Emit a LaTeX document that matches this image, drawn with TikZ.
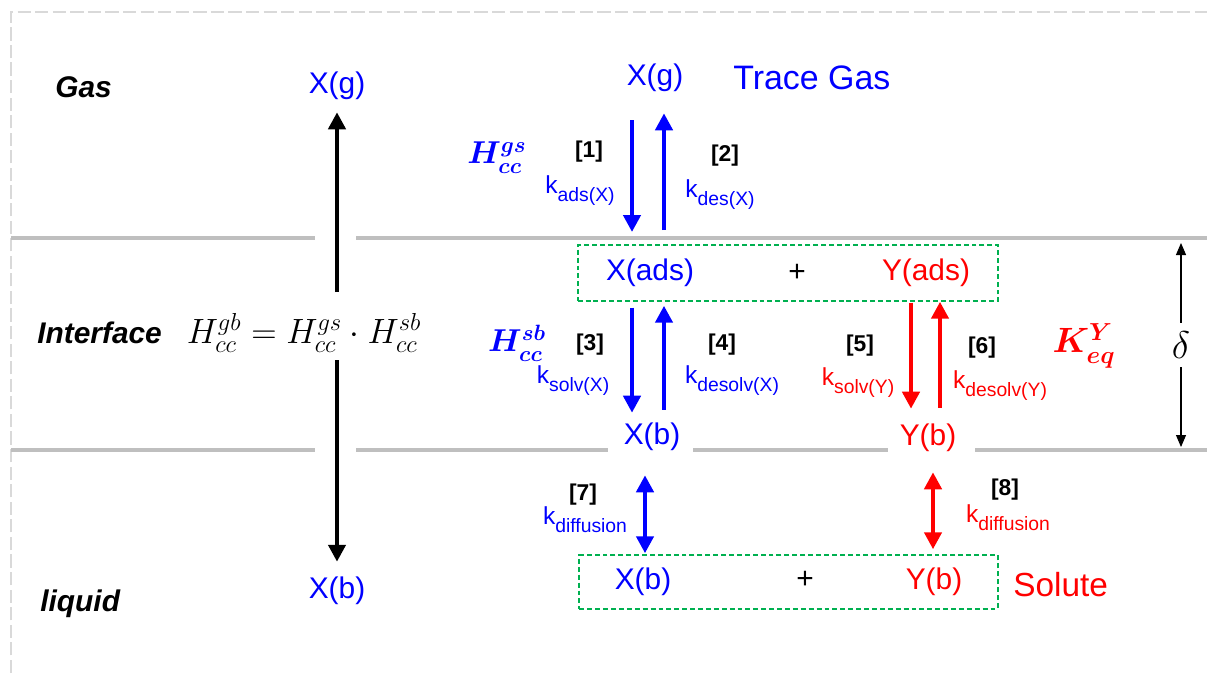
\documentclass[tikz,border=0pt]{standalone}
\usepackage{fix-cm}
\usepackage{fontspec}
\setmainfont{Liberation Sans}
\usetikzlibrary{arrows.meta,positioning,calc,fit}
\definecolor{xblue}{RGB}{0,0,255}
\definecolor{yred}{RGB}{255,0,0}
\definecolor{boxgreen}{RGB}{0,176,80}
\definecolor{sepgray}{RGB}{191,191,191}
\definecolor{framegray}{RGB}{217,217,217}
\newcommand{\krate}[1]{k\raisebox{-4.5pt}{\fontsize{11}{13}\selectfont #1}}

\begin{document}
\begin{tikzpicture}[
    x=0.02cm, y=-0.02cm,
    spec/.style={inner sep=0pt, font=\fontsize{17}{20}\selectfont},
    xsp/.style={spec, text=xblue},
    ysp/.style={spec, text=yred},
    phase/.style={inner sep=0pt, anchor=west,
      font=\fontsize{17}{20}\selectfont\bfseries\itshape},
    tagnum/.style={inner sep=0pt, font=\fontsize{13}{15}\selectfont\bfseries},
    ratelbl/.style={inner sep=0pt, font=\fontsize{14}{16}\selectfont},
    coef/.style={inner sep=0pt, font=\fontsize{18}{21}\selectfont\boldmath},
    gbox/.style={draw=boxgreen, line width=1.1pt,
      dash pattern=on 2.8pt off 1.7pt, inner ysep=0.27cm},
    sepline/.style={draw=sepgray, line width=2.3pt},
    pageframe/.style={draw=framegray, line width=1.7pt,
      dash pattern=on 7.5pt off 2.5pt},
    karr/.style={-{Triangle[length=0.34cm,width=0.34cm]}, line width=2.8pt, draw=black},
    barr/.style={-{Triangle[length=0.34cm,width=0.34cm]}, line width=2.7pt, draw=xblue},
    rarr/.style={-{Triangle[length=0.34cm,width=0.34cm]}, line width=2.7pt, draw=yred},
    dbl/.style={arrows={Triangle[length=0.34cm,width=0.34cm]-Triangle[length=0.34cm,width=0.34cm]},
      line width=2.7pt},
    darr/.style={arrows={Triangle[length=0.24cm,width=0.2cm]-Triangle[length=0.24cm,width=0.2cm]},
      line width=0.6pt, draw=black}
  ]
    \useasboundingbox (0,0) rectangle (1207,673);

    % frame and phase boundaries
    \draw[pageframe] (11,673) -- (11,12) -- (1207,12);
    \draw[sepline] (11,238) -- (315,238);
    \draw[sepline] (356,238) -- (1207,238);
    \draw[sepline] (11,450) -- (315,450);
    \draw[sepline] (356,450) -- (608,450);
    \draw[sepline] (693,450) -- (888,450);
    \draw[sepline] (975,450) -- (1207,450);
    \coordinate (lnU) at (1207,238);

    % phase names
    \node[phase] (gas)  at (55,87)  {Gas};
    \node[phase] (intf) at (37,333) {Interface};
    \node[phase] (liq)  at (40,604) {liquid};

    % overall partitioning
    \node[xsp] (xgl) at (337,86)  {X(g)};
    \node[xsp] (xbl) at (337,591) {X(b)};
    \node[inner sep=0pt, font=\fontsize{20}{24}\selectfont] (hform) at (304,333)
      {$H^{gb}_{cc} = H^{gs}_{cc}\cdot H^{sb}_{cc}$};
    \coordinate (fu) at (337,292);
    \coordinate (fd) at (337,360);
    \draw[karr, shorten >=0.24cm] (fu) -- (xgl);
    \draw[karr, shorten >=0.3cm] (fd) -- (xbl);

    % species
    \node[xsp] (xg) at (655,78) {X(g)};
    \node[inner sep=0pt, anchor=west, text=xblue, font=\fontsize{19.3}{22}\selectfont]
      (trace) at (733,78) {Trace Gas};
    \node[xsp] (xads) at (650,273) {X(ads)};
    \node[spec] (plus1) at (797,273) {+};
    \node[ysp] (yads) at (926,273) {Y(ads)};
    \node[gbox, inner xsep=0.56cm, fit=(xads)(yads)] (box1) {};
    \node[xsp] (xb1) at (652,437) {X(b)};
    \node[ysp] (yb1) at (928,438) {Y(b)};
    \node[xsp] (xb2) at (643,582) {X(b)};
    \node[spec] (plus2) at (805,580) {+};
    \node[ysp] (yb2) at (934,582) {Y(b)};
    \node[gbox, inner xsep=0.7cm, inner ysep=0.25cm, fit=(xb2)(yb2)] (box2) {};
    \node[inner sep=0pt, anchor=west, text=yred, font=\fontsize{19}{22}\selectfont]
      (solute) at (1013,585) {Solute};

    % constants
    \node[coef, text=xblue] (hgs) at (497,158) {$H^{gs}_{cc}$};
    \node[coef, text=xblue] (hsb) at (517,343) {$H^{sb}_{cc}$};
    \node[coef, text=yred, font=\fontsize{20}{23}\selectfont\boldmath] (keq) at (1084,346) {$K^{Y}_{eq}$};

    % step numbers and rate constants
    \node[tagnum] (n1) at (589,152) {[1]};
    \node[ratelbl, text=xblue] (kads) at (580,191) {\krate{ads(X)}};
    \node[tagnum] (n2) at (725,156) {[2]};
    \node[ratelbl, text=xblue] (kdes) at (720,195) {\krate{des(X)}};
    \node[tagnum] (n3) at (590,345) {[3]};
    \node[ratelbl, text=xblue] (ksolvx) at (573,381) {\krate{solv(X)}};
    \node[tagnum] (n4) at (722,345) {[4]};
    \node[ratelbl, text=xblue] (kdesolvx) at (732,381) {\krate{desolv(X)}};
    \node[tagnum] (n5) at (860,346) {[5]};
    \node[ratelbl, text=yred] (ksolvy) at (858,383) {\krate{solv(Y)}};
    \node[tagnum] (n6) at (982,348) {[6]};
    \node[ratelbl, text=yred] (kdesolvy) at (1000,386) {\krate{desolv(Y)}};
    \node[tagnum] (n7) at (583,495) {[7]};
    \node[ratelbl, text=xblue] (kdifx) at (585,520) {\krate{diffusion}};
    \node[tagnum] (n8) at (1005,490) {[8]};
    \node[ratelbl, text=yred] (kdify) at (1008,518) {\krate{diffusion}};

    % arrow columns
    \coordinate (c1) at (632,0);
    \coordinate (c2) at (664,0);
    \coordinate (c3) at (911,0);
    \coordinate (c4) at (940,0);
    \coordinate (c5) at (645,0);
    \coordinate (c6) at (933,0);

    \draw[barr, shorten <=0.56cm, shorten >=0.12cm] (xg.south -| c1) -- (c1 |- lnU);
    \draw[barr, shorten <=0.16cm, shorten >=0.42cm] (c2 |- lnU) -- (xg.south -| c2);
    \draw[barr, shorten <=0.12cm, shorten >=0.2cm] (box1.south -| c1) -- (xb1.north -| c1);
    \draw[barr, shorten <=0.26cm, shorten >=0.08cm] (xb1.north -| c2) -- (box1.south -| c2);
    \draw[rarr, shorten <=0.02cm, shorten >=0.3cm] (box1.south -| c3) -- (yb1.north -| c3);
    \draw[rarr, shorten <=0.32cm] (yb1.north -| c4) -- (box1.south -| c4);
    \draw[dbl, draw=xblue, shorten <=0.48cm, shorten >=0.02cm] (xb1.south -| c5) -- (box2.north -| c5);
    \draw[dbl, draw=yred, shorten <=0.4cm, shorten >=0.1cm] (yb1.south -| c6) -- (box2.north -| c6);

    % interface thickness
    \coordinate (dtop) at (1181,243);
    \coordinate (dbot) at (1181,447);
    \draw[darr] (dtop) -- (dbot)
      node[midway, fill=white, inner xsep=2pt, inner ysep=5pt,
        font=\fontsize{22}{25}\selectfont] (delta) {$\delta$};
\end{tikzpicture}
\end{document}
